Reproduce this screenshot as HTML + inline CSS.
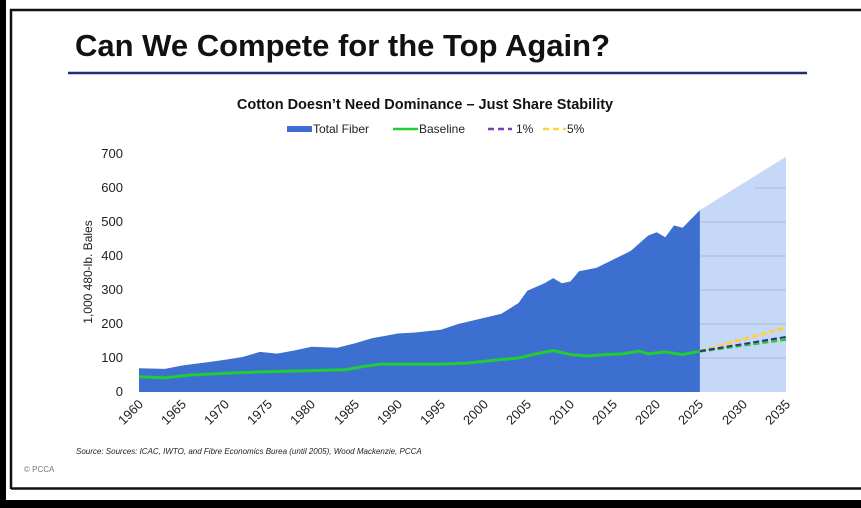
<!DOCTYPE html>
<html><head><meta charset="utf-8"><style>
html,body{margin:0;padding:0;background:#fff}
svg{display:block;font-family:"Liberation Sans",Arial,sans-serif}
</style></head><body>
<svg width="861" height="508" viewBox="0 0 861 508" xmlns="http://www.w3.org/2000/svg">
<rect x="0" y="0" width="861" height="508" fill="#fff"/>
<rect x="0" y="0" width="6" height="508" fill="#000"/>
<rect x="0" y="500" width="861" height="8" fill="#000"/>
<path d="M11 489 V10 H861" fill="none" stroke="#111" stroke-width="2.5"/>
<line x1="11" y1="488.5" x2="861" y2="488.5" stroke="#111" stroke-width="2.5"/>
<text x="75" y="56" font-size="31" font-weight="bold" fill="#111">Can We Compete for the Top Again?</text>
<line x1="68" y1="73" x2="807" y2="73" stroke="#1f2e78" stroke-width="2.5"/>
<text x="425" y="109" font-size="14.5" font-weight="bold" text-anchor="middle" fill="#111">Cotton Doesn’t Need Dominance – Just Share Stability</text>
<g font-size="12" fill="#222">
<rect x="287" y="126" width="25" height="6" fill="#3d6fd1"/><text x="313" y="133">Total Fiber</text>
<line x1="393" y1="129" x2="418" y2="129" stroke="#22cc33" stroke-width="2.5"/><text x="419" y="133">Baseline</text>
<line x1="488" y1="129" x2="512" y2="129" stroke="#7a3fb0" stroke-width="2.5" stroke-dasharray="6,4"/><text x="516" y="133">1%</text>
<line x1="543" y1="129" x2="566" y2="129" stroke="#ffd23a" stroke-width="2.5" stroke-dasharray="6,4"/><text x="567" y="133">5%</text>
</g>
<!-- projection area -->
<polygon points="699.9,392 699.9,210.1 786,156.7 786,392" fill="#c5d8f7"/>
<g stroke="#aabbd8" stroke-width="1">
<line x1="700" y1="358" x2="786" y2="358"/><line x1="700" y1="324" x2="786" y2="324"/>
<line x1="700" y1="290" x2="786" y2="290"/><line x1="700" y1="256" x2="786" y2="256"/>
<line x1="700" y1="222" x2="786" y2="222"/><line x1="755" y1="188" x2="786" y2="188"/>
</g>
<polygon fill="#3d6fd1" points="139,392 139,368.2 164.9,368.9 182.1,365.5 208,362.1 225.3,359.7 242.5,357 259.8,351.9 277,353.6 294.3,350.5 311.5,346.8 337.4,347.8 354.7,343.4 371.9,338.3 397.8,333.5 415.1,332.5 441,329.8 458.2,324 484.1,317.9 501.4,313.8 518.6,302.9 527.3,290.7 544.5,283.2 553.2,278.1 561.8,283.2 570.4,281.5 579,271.3 596.3,267.9 613.6,259.4 630.8,250.9 648.1,235.6 656.7,232.2 665.3,237.3 674,225.4 682.6,227.8 699.9,210.1 699.9,392"/>
<polyline fill="none" stroke="#22cc33" stroke-width="3" stroke-linejoin="round" points="139,376.7 164.9,377.7 190.8,375 225.3,373.3 268.4,371.6 311.5,370.6 346,369.6 363.3,366.5 380.5,364.1 441,364.1 466.9,363.1 492.7,360.4 518.6,358 535.9,353.9 553.2,350.5 570.4,354.6 587.7,356 604.9,354.6 622.2,353.9 639.5,351.2 648.1,353.9 665.3,351.9 682.6,354.6 699.9,351.2"/>
<line x1="699.9" y1="351.2" x2="786" y2="327.4" stroke="#ffd23a" stroke-width="3" stroke-dasharray="6,3"/>
<line x1="699.9" y1="351.2" x2="786" y2="339.3" stroke="#22cc33" stroke-width="3" stroke-dasharray="6,3"/>
<line x1="699.9" y1="351.2" x2="786" y2="336.9" stroke="#3a2a8a" stroke-width="2" stroke-dasharray="6,3"/>
<g font-size="13" fill="#222" text-anchor="end">
<text x="123" y="158">700</text><text x="123" y="192">600</text><text x="123" y="226">500</text>
<text x="123" y="260">400</text><text x="123" y="294">300</text><text x="123" y="328">200</text>
<text x="123" y="362">100</text><text x="123" y="396">0</text>
</g>
<text transform="translate(92,272) rotate(-90)" font-size="12" fill="#222" text-anchor="middle">1,000 480-lb. Bales</text>
<g font-size="13" fill="#222" text-anchor="end">
<text transform="translate(144,405) rotate(-45)">1960</text>
<text transform="translate(187,405) rotate(-45)">1965</text>
<text transform="translate(230,405) rotate(-45)">1970</text>
<text transform="translate(273,405) rotate(-45)">1975</text>
<text transform="translate(316,405) rotate(-45)">1980</text>
<text transform="translate(360,405) rotate(-45)">1985</text>
<text transform="translate(403,405) rotate(-45)">1990</text>
<text transform="translate(446,405) rotate(-45)">1995</text>
<text transform="translate(489,405) rotate(-45)">2000</text>
<text transform="translate(532,405) rotate(-45)">2005</text>
<text transform="translate(575,405) rotate(-45)">2010</text>
<text transform="translate(618,405) rotate(-45)">2015</text>
<text transform="translate(661,405) rotate(-45)">2020</text>
<text transform="translate(704,405) rotate(-45)">2025</text>
<text transform="translate(748,405) rotate(-45)">2030</text>
<text transform="translate(791,405) rotate(-45)">2035</text>
</g>
<text x="76" y="454" font-size="8" font-style="italic" fill="#222">Source: Sources: ICAC, IWTO, and Fibre Economics Burea (until 2005), Wood Mackenzie, PCCA</text>
<text x="24" y="472" font-size="8" fill="#777">© PCCA</text>
</svg>
</body></html>
